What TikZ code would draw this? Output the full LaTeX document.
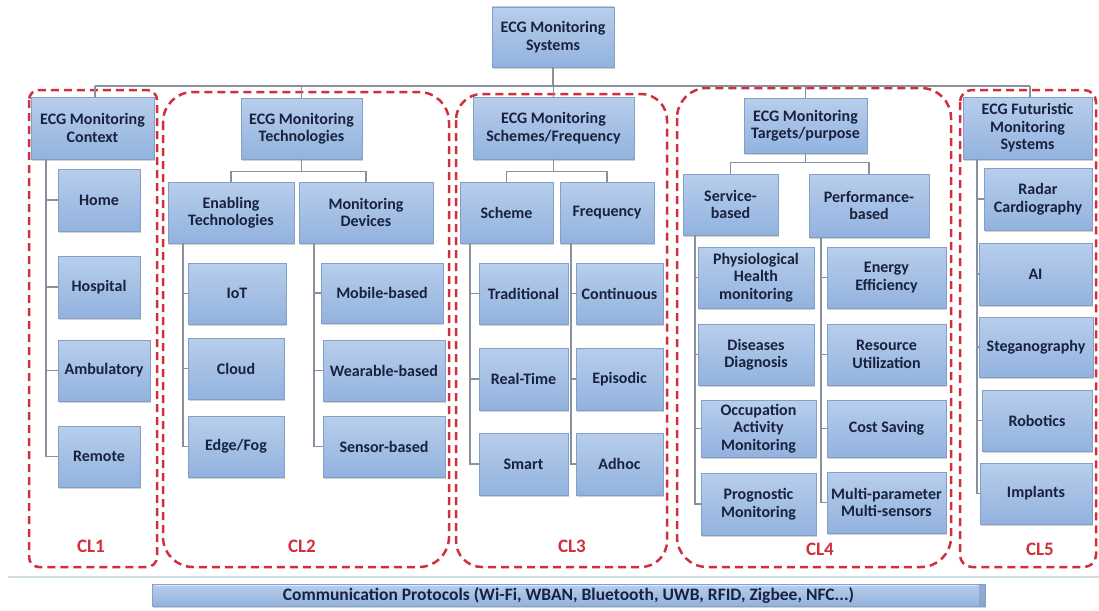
\documentclass[tikz,border=0pt]{standalone}
\usepackage{fontspec}
\setmainfont{Carlito}
\usetikzlibrary{shadows,calc}

\definecolor{boxtop}{RGB}{184,206,236}
\definecolor{boxbot}{RGB}{146,178,222}
\definecolor{boxline}{RGB}{130,160,200}
\definecolor{navy}{RGB}{24,34,62}
\definecolor{connc}{RGB}{135,145,158}
\definecolor{clred}{RGB}{208,48,60}
\definecolor{baseclr}{RGB}{206,224,226}

\tikzset{
  box/.style={draw=boxline, line width=0.5pt, top color=boxtop, bottom color=boxbot,
    drop shadow={shadow xshift=1.2pt, shadow yshift=-1.6pt, opacity=0.35},
    text=navy, align=center, inner sep=1pt,
    font=\bfseries\fontsize{16}{17.5}\selectfont},
  conn/.style={draw=connc, line width=1.1pt},
  frame/.style={draw=clred, line width=2.5pt, dash pattern=on 8pt off 5pt},
  cltext/.style={text=clred, font=\bfseries\fontsize{19}{21}\selectfont},
}

\newcommand{\bx}[6]{% name, cx, cy, width, height, text
  \node[box, minimum width=#4pt, minimum height=#5pt] (#1) at (#2,#3) {#6};}

\begin{document}
\begin{tikzpicture}[x=1pt, y=-1pt]
\useasboundingbox[fill=white] (0,0) rectangle (1099,610);

% group frames
\draw[frame, rounded corners=10pt] (29,90) rectangle (157,567);
\draw[frame, rounded corners=30pt] (163,92) rectangle (449,567);
\draw[frame, rounded corners=26pt] (456,94) rectangle (667,567);
\draw[frame, rounded corners=30pt] (677,88) rectangle (951,567);
\draw[frame, rounded corners=12pt] (960,90) rectangle (1096,567);

% base line under the frames
\draw[baseclr, line width=2.2pt] (8,577) -- (1099,577);

% root and category headers
\bx{root}{553}{37}{122}{60}{ECG Monitoring\\Systems}
\bx{h1}{92.5}{128}{123}{62}{ECG Monitoring\\Context}
\bx{h2}{301.5}{128.5}{121}{61}{ECG Monitoring\\Technologies}
\bx{h3}{553.5}{128}{161}{62}{ECG Monitoring\\Schemes/Frequency}
\bx{h4}{805.5}{125.5}{123}{55}{ECG Monitoring\\Targets/purpose}
\bx{h5}{1027.5}{128}{129}{62}{ECG Futuristic\\Monitoring\\Systems}

% CL1
\bx{home}{99}{200}{82}{62}{Home}
\bx{hospital}{99}{287}{82}{62}{Hospital}
\bx{ambulatory}{104}{370.5}{92}{61}{Ambulatory}
\bx{remote}{99}{456.5}{82}{61}{Remote}

% CL2
\bx{enab}{231}{212.5}{126}{61}{Enabling\\Technologies}
\bx{mdev}{366}{212.5}{134}{61}{Monitoring\\Devices}
\bx{iot}{237}{293.5}{98}{61}{IoT}
\bx{cloud}{236}{368.5}{96}{61}{Cloud}
\bx{edge}{236}{446.5}{96}{61}{Edge/Fog}
\bx{mobile}{382}{293}{122}{60}{Mobile-based}
\bx{wearable}{384}{370.5}{122}{61}{Wearable-based}
\bx{sensor}{384}{446.5}{122}{61}{Sensor-based}

% CL3
\bx{scheme}{506.5}{212.5}{93}{61}{Scheme}
\bx{freq}{607}{212.5}{94}{61}{Frequency}
\bx{trad}{523.5}{293.5}{89}{61}{Traditional}
\bx{realtime}{523.5}{379}{89}{62}{Real-Time}
\bx{smart}{523.5}{464}{89}{62}{Smart}
\bx{cont}{619.5}{293.5}{87}{61}{Continuous}
\bx{episodic}{619.5}{379}{87}{62}{Episodic}
\bx{adhoc}{619.5}{464}{87}{62}{Adhoc}

% CL4
\bx{service}{730.5}{204.5}{95}{61}{Service-\\based}
\bx{perf}{869}{205.5}{120}{63}{Performance-\\based}
\bx{phys}{756}{277.5}{116}{61}{Physiological\\Health\\monitoring}
\bx{diseases}{756}{354.5}{116}{61}{Diseases\\Diagnosis}
\bx{occup}{758.5}{428.5}{115}{57}{Occupation\\Activity\\Monitoring}
\bx{progn}{758.5}{504}{115}{62}{Prognostic\\Monitoring}
\bx{energy}{886.5}{277.5}{119}{61}{Energy\\Efficiency}
\bx{resource}{886.5}{354.5}{119}{61}{Resource\\Utilization}
\bx{cost}{886.5}{428.5}{119}{57}{Cost Saving}
\bx{multi}{886.5}{502.5}{119}{61}{Multi-parameter\\Multi-sensors}

% CL5
\bx{radar}{1038}{199}{108}{62}{Radar\\Cardiography}
\bx{ai}{1035.5}{274}{113}{62}{AI}
\bx{steg}{1036}{347}{114}{60}{Steganography}
\bx{robot}{1037}{420.5}{110}{61}{Robotics}
\bx{implant}{1036}{493.5}{112}{61}{Implants}

% root bus
\coordinate (bus) at (553,86);
\draw[conn] (root.south) -- (root.south |- bus);
\draw[conn] ($(h1.north |- bus)+(2.5,0)$) -- ($(h5.north |- bus)+(2.5,0)$);
\foreach \h/\dx in {h1/2.5,h2/0,h3/0,h4/0,h5/2.5}
  \draw[conn] ($(\h.north |- bus)+(\dx,0)$) -- ($(\h.north)+(\dx,0)$);

% CL1 spine
\coordinate (s1) at (46,159);
\draw[conn] (s1) |- (remote.west);
\foreach \n in {home,hospital,ambulatory} \draw[conn] (\n.west -| s1) -- (\n.west);

% CL2 branches
\draw[conn] (h2.south) -- ++(0,12) -| (enab.north);
\draw[conn] (h2.south) -- ++(0,12) -| (mdev.north);
\coordinate (s2a) at (183,243);
\draw[conn] (s2a) |- (edge.west);
\foreach \n in {iot,cloud} \draw[conn] (\n.west -| s2a) -- (\n.west);
\coordinate (s2b) at (314,243);
\draw[conn] (s2b) |- (sensor.west);
\foreach \n in {mobile,wearable} \draw[conn] (\n.west -| s2b) -- (\n.west);

% CL3 branches
\draw[conn] (h3.south) -- ++(0,12) -| (scheme.north);
\draw[conn] (h3.south) -- ++(0,12) -| (freq.north);
\coordinate (s3a) at (470,243);
\draw[conn] (s3a) |- (smart.west);
\foreach \n in {trad,realtime} \draw[conn] (\n.west -| s3a) -- (\n.west);
\coordinate (s3b) at (571,243);
\draw[conn] (s3b) |- (adhoc.west);
\foreach \n in {cont,episodic} \draw[conn] (\n.west -| s3b) -- (\n.west);

% CL4 branches
\draw[conn] (h4.south) -- ++(0,9) -| (service.north);
\draw[conn] (h4.south) -- ++(0,9) -| (perf.north);
\coordinate (s4a) at (695,235);
\draw[conn] (s4a) |- (progn.west);
\foreach \n in {phys,diseases,occup} \draw[conn] (\n.west -| s4a) -- (\n.west);
\coordinate (s4b) at (821,237);
\draw[conn] (s4b) |- (multi.west);
\foreach \n in {energy,resource,cost} \draw[conn] (\n.west -| s4b) -- (\n.west);

% CL5 spine
\coordinate (s5) at (977,159);
\draw[conn] (s5) |- (implant.west);
\foreach \n in {radar,ai,steg,robot} \draw[conn] (\n.west -| s5) -- (\n.west);

% group labels
\node[cltext] (cl1) at (91,546) {CL1};
\node[cltext] (cl2) at (302,546) {CL2};
\node[cltext] (cl3) at (572,546) {CL3};
\node[cltext] (cl4) at (820,549) {CL4};
\node[cltext] (cl5) at (1040,549) {CL5};

% communication protocols bar
\node[box, minimum width=833pt, minimum height=22pt, font=\bfseries\fontsize{17.5}{19}\selectfont]
  (comm) at (568.5,595) {Communication Protocols (Wi-Fi, WBAN, Bluetooth, UWB, RFID, Zigbee, NFC...)};
\draw[white, opacity=0.6, line width=1.2pt] ($(comm.north west)+(3,2)$) -- ($(comm.north east)+(-8,2)$);
\fill[boxline, opacity=0.7] ($(comm.north east)+(-6,0)$) rectangle (comm.south east);
\end{tikzpicture}
\end{document}
